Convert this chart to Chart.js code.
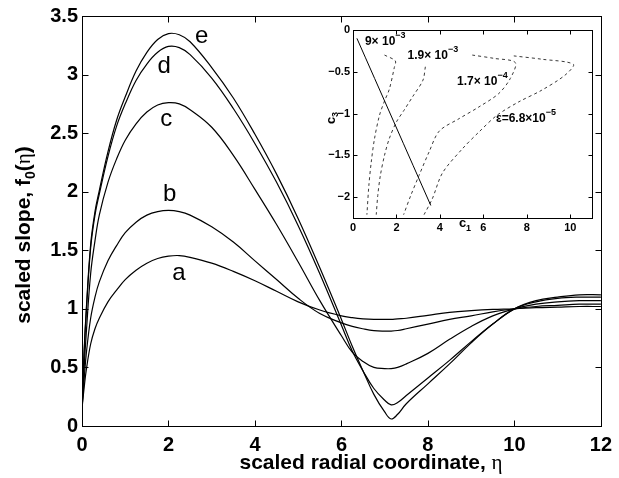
<!DOCTYPE html>
<html>
<head>
<meta charset="utf-8">
<script src="https://cdn.jsdelivr.net/npm/chart.js@4.4.1/dist/chart.umd.min.js"></script>
<style>
    html, body { margin: 0; padding: 0; background: #fff; }
    #wrap { position: relative; width: 619px; height: 478px; overflow: hidden; }
    #mainChart { position: absolute; left: 0; top: 0; }
    #insetChart { position: absolute; left: 318px; top: 14px; }
</style>
</head>
<body>
<div id="wrap">
    <canvas id="mainChart" width="619" height="478"></canvas>
    <canvas id="insetChart" width="282" height="232"></canvas>
</div>
<script>
// main panel: scaled slope f0 against eta, curves a..e
const etaValues = [0, 0.05, 0.1, 0.2, 0.3, 0.4, 0.6, 0.8, 1, 1.25, 1.5, 1.75, 2, 2.25, 2.5, 3, 3.5, 4, 4.5, 5,
    5.5, 6, 6.25, 6.5, 6.75, 7, 7.15, 7.3, 7.5, 8, 8.5, 9, 9.5, 10, 10.5, 11, 11.5, 12];
const slopeA = [0.15, 0.33, 0.48, 0.70, 0.83, 0.92, 1.06, 1.16, 1.25, 1.33, 1.39, 1.43, 1.45, 1.455, 1.44, 1.39, 1.32, 1.24, 1.15, 1.06,
    0.99, 0.94, 0.925, 0.915, 0.91, 0.91, 0.91, 0.915, 0.92, 0.945, 0.97, 0.985, 0.995, 1.0, 1.01, 1.015, 1.02, 1.02];
const slopeB = [0.15, 0.40, 0.62, 0.92, 1.10, 1.23, 1.41, 1.54, 1.65, 1.74, 1.80, 1.83, 1.84, 1.83, 1.80, 1.70, 1.57, 1.41, 1.25, 1.09,
    0.96, 0.88, 0.85, 0.83, 0.815, 0.81, 0.81, 0.815, 0.83, 0.87, 0.91, 0.94, 0.975, 1.0, 1.02, 1.03, 1.04, 1.04];
const slopeC = [0.15, 0.50, 0.80, 1.30, 1.58, 1.80, 2.08, 2.28, 2.44, 2.58, 2.68, 2.74, 2.76, 2.75, 2.70, 2.55, 2.31, 2.02, 1.72, 1.40,
    1.07, 0.77, 0.63, 0.55, 0.50, 0.49, 0.49, 0.50, 0.53, 0.62, 0.74, 0.85, 0.94, 1.0, 1.04, 1.06, 1.07, 1.07];
const slopeD = [0.15, 0.63, 0.98, 1.52, 1.80, 1.98, 2.30, 2.56, 2.75, 2.95, 3.09, 3.19, 3.24, 3.23, 3.17, 2.97, 2.71, 2.41, 2.08, 1.71,
    1.30, 0.86, 0.64, 0.47, 0.32, 0.22, 0.18, 0.20, 0.26, 0.41, 0.56, 0.72, 0.87, 1.0, 1.06, 1.09, 1.10, 1.10];
const slopeE = [0.15, 0.65, 1.00, 1.55, 1.83, 2.01, 2.34, 2.61, 2.81, 3.03, 3.19, 3.30, 3.35, 3.34, 3.28, 3.06, 2.80, 2.49, 2.15, 1.77,
    1.35, 0.91, 0.68, 0.47, 0.27, 0.12, 0.06, 0.10, 0.19, 0.36, 0.53, 0.71, 0.87, 1.0, 1.07, 1.10, 1.12, 1.12];

const curveNames = ['a', 'b', 'c', 'd', 'e'];
const curveLabelEta = [2.24, 2.03, 1.95, 1.90, 2.77];
const curveLabelSlope = [1.30, 1.98, 2.615, 3.066, 3.33];

const etaTicks = [0, 2, 4, 6, 8, 10, 12];
const slopeTicks = [0, 0.5, 1, 1.5, 2, 2.5, 3, 3.5];

// inset: c3 against c1, one solid line and four dashed curves (one per epsilon)
const solidC1 = [0.18, 3.58];
const solidC3 = [-0.10, -2.10];
const eps1C1 = [1.45, 1.95, 1.90, 1.67, 1.45, 1.22, 0.99, 0.84, 0.73, 0.64];
const eps1C3 = [-0.30, -0.37, -0.45, -0.71, -0.85, -1.02, -1.30, -1.58, -1.86, -2.21];
const eps2C1 = [3.33, 3.22, 2.74, 2.35, 2.0, 1.67, 1.45, 1.26, 1.14, 1.07];
const eps2C3 = [-0.44, -0.60, -0.80, -0.96, -1.10, -1.30, -1.50, -1.74, -1.98, -2.21];
const eps3C1 = [5.49, 6.5, 7.47, 7.24, 6.71, 5.8, 4.89, 3.97, 3.5, 3.04, 2.66, 2.33];
const eps3C3 = [-0.30, -0.34, -0.39, -0.58, -0.76, -0.92, -1.06, -1.21, -1.46, -1.74, -1.98, -2.21];
const eps4C1 = [7.4, 8.7, 10.14, 9.76, 8.69, 7.63, 6.63, 5.8, 5.04, 4.12, 3.65, 3.27];
const eps4C3 = [-0.31, -0.35, -0.41, -0.54, -0.72, -0.86, -1.02, -1.22, -1.42, -1.71, -2.02, -2.21];

const epsMantissa = ['9\u00d7 10', '1.9\u00d7 10', '1.7\u00d7 10', '\u03b5=6.8\u00d710'];
const epsExponent = ['\u22123', '\u22123', '\u22124', '\u22125'];
const epsLabelC1 = [0.55, 2.51, 4.79, 6.58];
const epsLabelC3 = [-0.14, -0.31, -0.62, -1.06];

const c1Ticks = [0, 2, 4, 6, 8, 10];
const c3Ticks = [0, -0.5, -1, -1.5, -2];

const SANS = "'Liberation Sans', Arial, Helvetica, sans-serif";
const SERIF = "'Liberation Serif', 'DejaVu Serif', serif";

Chart.defaults.font.family = SANS;
Chart.defaults.color = '#000';

function toPoints(xs, ys) {
    return xs.map((x, i) => ({ x: x, y: ys[i] }));
}

function tickText(v) {
    return v < 0 ? '\u2212' + Math.abs(v) : String(v);
}

function drawParts(ctx, parts, x, y, align) {
    let total = 0;
    parts.forEach(p => {
        ctx.font = p.font;
        total += ctx.measureText(p.text).width;
    });
    let cx = align === 'center' ? x - total / 2 : x;
    ctx.textAlign = 'left';
    parts.forEach(p => {
        ctx.font = p.font;
        ctx.fillText(p.text, cx, y + (p.dy || 0));
        cx += ctx.measureText(p.text).width;
    });
}

function drawBox(chart, len) {
    const { ctx, chartArea: area, scales } = chart;
    ctx.save();
    ctx.strokeStyle = '#000';
    ctx.lineWidth = 1;
    ctx.setLineDash([]);
    const l = Math.round(area.left) + 0.5;
    const r = Math.round(area.right) + 0.5;
    const t = Math.round(area.top) + 0.5;
    const b = Math.round(area.bottom) + 0.5;
    ctx.strokeRect(l, t, r - l, b - t);
    ctx.beginPath();
    scales.x.ticks.forEach(tick => {
        const px = Math.round(scales.x.getPixelForValue(tick.value)) + 0.5;
        ctx.moveTo(px, b); ctx.lineTo(px, b - len);
        ctx.moveTo(px, t); ctx.lineTo(px, t + len);
    });
    scales.y.ticks.forEach(tick => {
        const py = Math.round(scales.y.getPixelForValue(tick.value)) + 0.5;
        ctx.moveTo(l, py); ctx.lineTo(l + len, py);
        ctx.moveTo(r, py); ctx.lineTo(r - len, py);
    });
    ctx.stroke();
    ctx.restore();
}

const mainDecor = {
    id: 'mainDecor',
    afterDraw(chart) {
        const { ctx, scales: { x, y } } = chart;
        drawBox(chart, 6);
        ctx.save();
        ctx.fillStyle = '#000';

        // curve letters
        ctx.font = '24px ' + SANS;
        ctx.textAlign = 'center';
        ctx.textBaseline = 'middle';
        curveNames.forEach((name, i) => {
            ctx.fillText(name, x.getPixelForValue(curveLabelEta[i]), y.getPixelForValue(curveLabelSlope[i]));
        });

        // axis titles
        ctx.textBaseline = 'alphabetic';
        drawParts(ctx, [
            { text: 'scaled radial coordinate, ', font: 'bold 21px ' + SANS },
            { text: '\u03b7', font: '21px ' + SERIF }
        ], 371, 469, 'center');

        ctx.translate(30, 235);
        ctx.rotate(-Math.PI / 2);
        drawParts(ctx, [
            { text: 'scaled slope, f', font: 'bold 21px ' + SANS },
            { text: '0', font: 'bold 14px ' + SANS, dy: 5 },
            { text: '(', font: 'bold 21px ' + SANS },
            { text: '\u03b7', font: '21px ' + SERIF },
            { text: ')', font: 'bold 21px ' + SANS }
        ], 0, 0, 'center');
        ctx.restore();
    }
};

const insetDecor = {
    id: 'insetDecor',
    afterDraw(chart) {
        const { ctx, scales: { x, y } } = chart;
        drawBox(chart, 4);
        ctx.save();
        ctx.fillStyle = '#000';
        ctx.textBaseline = 'middle';
        epsMantissa.forEach((m, i) => {
            const px = x.getPixelForValue(epsLabelC1[i]);
            const py = y.getPixelForValue(epsLabelC3[i]);
            drawParts(ctx, [
                { text: m, font: 'bold 12px ' + SANS },
                { text: epsExponent[i], font: 'bold 9px ' + SANS, dy: -6 }
            ], px, py, 'left');
        });

        ctx.textBaseline = 'alphabetic';
        drawParts(ctx, [
            { text: 'c', font: 'bold 13px ' + SANS },
            { text: '1', font: 'bold 9px ' + SANS, dy: 4 }
        ], 147, 213, 'center');

        ctx.translate(17, 104);
        ctx.rotate(-Math.PI / 2);
        drawParts(ctx, [
            { text: 'c', font: 'bold 13px ' + SANS },
            { text: '3', font: 'bold 9px ' + SANS, dy: 3 }
        ], 0, 0, 'center');
        ctx.restore();
    }
};

const mainSeries = [slopeA, slopeB, slopeC, slopeD, slopeE];

new Chart(document.getElementById('mainChart'), {
    type: 'line',
    data: {
        datasets: mainSeries.map((s, i) => ({
            label: curveNames[i],
            data: toPoints(etaValues, s),
            borderColor: '#000',
            borderWidth: 1.2,
            pointRadius: 0,
            fill: false,
            tension: 0.4
        }))
    },
    options: {
        responsive: false,
        animation: false,
        devicePixelRatio: 1,
        layout: { padding: { top: 12, right: 12, left: 0, bottom: 0 } },
        plugins: { legend: { display: false }, tooltip: { enabled: false } },
        scales: {
            x: {
                type: 'linear',
                min: 0,
                max: 12,
                afterBuildTicks: scale => { scale.ticks = etaTicks.map(v => ({ value: v })); },
                afterFit: scale => { scale.height = 52; },
                grid: { display: false, drawTicks: false },
                border: { display: false },
                ticks: { font: { size: 20, weight: 'bold' }, padding: 7, color: '#000', callback: tickText }
            },
            y: {
                type: 'linear',
                min: 0,
                max: 3.5,
                afterBuildTicks: scale => { scale.ticks = slopeTicks.map(v => ({ value: v })); },
                afterFit: scale => { scale.width = 82; },
                grid: { display: false, drawTicks: false },
                border: { display: false },
                ticks: { font: { size: 20, weight: 'bold' }, padding: 4, color: '#000', callback: tickText }
            }
        }
    },
    plugins: [mainDecor]
});

const insetDash = [3, 3];
new Chart(document.getElementById('insetChart'), {
    type: 'scatter',
    data: {
        datasets: [
            { data: toPoints(solidC1, solidC3), borderColor: '#000', borderWidth: 1, borderDash: [] },
            { data: toPoints(eps1C1, eps1C3), borderColor: '#222', borderWidth: 0.9, borderDash: insetDash },
            { data: toPoints(eps2C1, eps2C3), borderColor: '#222', borderWidth: 0.9, borderDash: insetDash },
            { data: toPoints(eps3C1, eps3C3), borderColor: '#222', borderWidth: 0.9, borderDash: insetDash },
            { data: toPoints(eps4C1, eps4C3), borderColor: '#222', borderWidth: 0.9, borderDash: insetDash }
        ].map(d => Object.assign(d, { showLine: true, pointRadius: 0, tension: 0.3, fill: false }))
    },
    options: {
        responsive: false,
        animation: false,
        devicePixelRatio: 1,
        layout: { padding: { top: 16, right: 8, left: 0, bottom: 0 } },
        plugins: { legend: { display: false }, tooltip: { enabled: false } },
        scales: {
            x: {
                type: 'linear',
                min: 0,
                max: 11,
                afterBuildTicks: scale => { scale.ticks = c1Ticks.map(v => ({ value: v })); },
                afterFit: scale => { scale.height = 28; },
                grid: { display: false, drawTicks: false },
                border: { display: false },
                ticks: { font: { size: 11, weight: 'bold' }, padding: 3, color: '#000', callback: tickText }
            },
            y: {
                type: 'linear',
                min: -2.25,
                max: 0,
                afterBuildTicks: scale => { scale.ticks = c3Ticks.map(v => ({ value: v })); },
                afterFit: scale => { scale.width = 35; },
                grid: { display: false, drawTicks: false },
                border: { display: false },
                ticks: { font: { size: 11, weight: 'bold' }, padding: 3, color: '#000', callback: tickText }
            }
        }
    },
    plugins: [insetDecor]
});
</script>
</body>
</html>
